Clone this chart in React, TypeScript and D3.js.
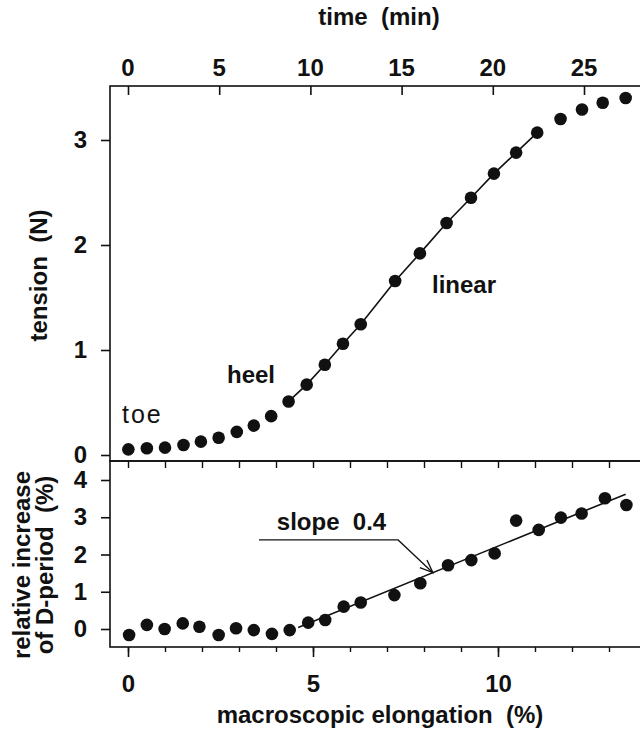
import React, { useEffect, useRef } from "react";
import * as d3 from "d3";

// upper panel: tension vs elongation
const tensionElong = [0.01, 0.51, 1.0, 1.5, 1.97, 2.45, 2.94, 3.4, 3.87, 4.34, 4.83, 5.32, 5.81, 6.29, 7.22, 7.89, 8.61, 9.27, 9.89, 10.49, 11.06, 11.69, 12.27, 12.83, 13.45];
const tensionN = [0.054, 0.064, 0.07, 0.095, 0.127, 0.165, 0.22, 0.28, 0.37, 0.51, 0.67, 0.86, 1.06, 1.245, 1.657, 1.92, 2.21, 2.45, 2.68, 2.88, 3.07, 3.2, 3.29, 3.355, 3.4];
// points joined by the "linear" line (index range)
const linearFrom = 9;
const linearTo = 20;

// lower panel: relative increase of D-period
const dElong = [0.03, 0.51, 0.99, 1.48, 1.93, 2.45, 2.92, 3.4, 3.89, 4.37, 4.87, 5.33, 5.83, 6.29, 7.2, 7.9, 8.65, 9.28, 9.91, 10.49, 11.1, 11.7, 12.26, 12.89, 13.47];
const dPeriod = [-0.16, 0.11, 0.0, 0.15, 0.06, -0.16, 0.02, -0.03, -0.13, -0.03, 0.17, 0.24, 0.6, 0.71, 0.91, 1.23, 1.71, 1.85, 2.03, 2.91, 2.66, 2.99, 3.1, 3.51, 3.33];
// fitted line (slope 0.4)
const fitElong = [4.6, 13.45];
const fitValue = [0.04, 3.62];

// ticks
const timeTicks = [0, 5, 10, 15, 20, 25];
const tensionTicks = [0, 1, 2, 3];
const dTicks = [0, 1, 2, 3, 4];
const elongMinor = d3.range(0, 14);
const elongMajor = [0, 5, 10];

const FONT = "'Liberation Sans', Arial, sans-serif";

export default function App() {
  const ref = useRef<SVGSVGElement>(null);

  useEffect(() => {
    const svg = d3.select(ref.current);
    svg.selectAll("*").remove();

    const left = 110, right = 641, top = 86, mid = 461, bottom = 647;

    const x = d3.scaleLinear().domain([0, 10]).range([128, 498]);
    // time axis shares the pixel span; 25 min sits at x=584
    const xTime = d3.scaleLinear().domain([0, 25]).range([128, 584]);
    const yT = d3.scaleLinear().domain([0, 3]).range([455, 140]);
    const yD = d3.scaleLinear().domain([0, 4]).range([629, 480]);

    const ink = "#111";
    const fmt = d3.format("d");

    // frames
    svg.append("rect").attr("x", left).attr("y", top).attr("width", right - left).attr("height", mid - top)
      .attr("fill", "none").attr("stroke", ink).attr("stroke-width", 1.6);
    svg.append("rect").attr("x", left).attr("y", mid).attr("width", right - left).attr("height", bottom - mid)
      .attr("fill", "none").attr("stroke", ink).attr("stroke-width", 1.6);

    // top time axis, ticks inward
    const topAxis = svg.append("g").attr("transform", `translate(0,${top})`)
      .call(d3.axisBottom(xTime).tickValues(timeTicks).tickSize(9).tickFormat(() => ""));
    topAxis.select(".domain").remove();
    topAxis.selectAll("line").attr("stroke", ink).attr("stroke-width", 1.6);
    svg.append("g").selectAll("text").data(timeTicks).enter().append("text")
      .attr("x", (d) => xTime(d)).attr("y", 76).attr("text-anchor", "middle")
      .attr("font-family", FONT).attr("font-weight", "bold").attr("font-size", 24).attr("fill", ink)
      .text((d) => d);
    svg.append("text").attr("x", 379).attr("y", 25).attr("text-anchor", "middle")
      .attr("font-family", FONT).attr("font-weight", "bold").attr("font-size", 24).attr("fill", ink)
      .attr("xml:space", "preserve").text("time  (min)");

    // upper y axis
    const yAxT = svg.append("g").attr("transform", `translate(${left},0)`)
      .call(d3.axisLeft(yT).tickValues(tensionTicks).tickFormat((d) => fmt(d as number)).tickSize(9).tickPadding(14));
    yAxT.select(".domain").remove();
    yAxT.selectAll("line").attr("stroke", ink).attr("stroke-width", 1.6);
    yAxT.selectAll("text").attr("font-family", FONT).attr("font-weight", "bold").attr("font-size", 24).attr("fill", ink);
    svg.append("text").attr("transform", `translate(47,${(top + mid) / 2 + 2}) rotate(-90)`).attr("text-anchor", "middle")
      .attr("font-family", FONT).attr("font-weight", "bold").attr("font-size", 24).attr("fill", ink)
      .attr("xml:space", "preserve").text("tension  (N)");

    // lower y axis
    const yAxD = svg.append("g").attr("transform", `translate(${left},0)`)
      .call(d3.axisLeft(yD).tickValues(dTicks).tickFormat((d) => fmt(d as number)).tickSize(9).tickPadding(14));
    yAxD.select(".domain").remove();
    yAxD.selectAll("line").attr("stroke", ink).attr("stroke-width", 1.6);
    yAxD.selectAll("text").attr("font-family", FONT).attr("font-weight", "bold").attr("font-size", 24).attr("fill", ink);
    const yTitle = svg.append("text").attr("transform", `translate(0,565) rotate(-90)`)
      .attr("text-anchor", "middle").attr("font-family", FONT).attr("font-weight", "bold").attr("font-size", 24).attr("fill", ink)
      .attr("xml:space", "preserve");
    yTitle.append("tspan").attr("x", 0).attr("y", 30).text("relative increase");
    yTitle.append("tspan").attr("x", 0).attr("y", 53).text("of D-period  (%)");

    // lower panel top edge, inward ticks each 1 %
    const midAxis = svg.append("g").attr("transform", `translate(0,${mid})`)
      .call(d3.axisBottom(x).tickValues(elongMinor).tickSize(7).tickFormat(() => ""));
    midAxis.select(".domain").remove();
    midAxis.selectAll("line").attr("stroke", ink).attr("stroke-width", 1.4);

    // bottom axis, outward
    const botMinor = svg.append("g").attr("transform", `translate(0,${bottom})`)
      .call(d3.axisBottom(x).tickValues(elongMinor).tickSize(5).tickFormat(() => ""));
    botMinor.select(".domain").remove();
    botMinor.selectAll("line").attr("stroke", ink).attr("stroke-width", 1.4);
    const botMajor = svg.append("g").attr("transform", `translate(0,${bottom})`)
      .call(d3.axisBottom(x).tickValues(elongMajor).tickFormat((d) => fmt(d as number)).tickSize(10).tickPadding(18));
    botMajor.select(".domain").remove();
    botMajor.selectAll("line").attr("stroke", ink).attr("stroke-width", 1.6);
    botMajor.selectAll("text").attr("font-family", FONT).attr("font-weight", "bold").attr("font-size", 24).attr("fill", ink);
    svg.append("text").attr("x", 380).attr("y", 723).attr("text-anchor", "middle")
      .attr("font-family", FONT).attr("font-weight", "bold").attr("font-size", 24).attr("fill", ink)
      .attr("xml:space", "preserve").text("macroscopic elongation  (%)");

    // upper data
    const upper = tensionElong.map((e, i) => [e, tensionN[i]] as [number, number]);
    const lineT = d3.line<[number, number]>().x((d) => x(d[0])).y((d) => yT(d[1]));
    svg.append("path").attr("d", lineT(upper.slice(linearFrom, linearTo + 1)))
      .attr("fill", "none").attr("stroke", ink).attr("stroke-width", 1.6);
    svg.append("g").selectAll("circle").data(upper).enter().append("circle")
      .attr("cx", (d) => x(d[0])).attr("cy", (d) => yT(d[1])).attr("r", 6.3).attr("fill", ink);

    // region labels
    svg.append("text").attr("x", 122).attr("y", 423).attr("font-family", FONT)
      .attr("font-size", 25).attr("letter-spacing", 2).attr("fill", ink).text("toe");
    svg.append("text").attr("x", 227).attr("y", 383).attr("font-family", FONT).attr("font-weight", "bold")
      .attr("font-size", 24).attr("fill", ink).text("heel");
    svg.append("text").attr("x", 432).attr("y", 293).attr("font-family", FONT).attr("font-weight", "bold")
      .attr("font-size", 24).attr("fill", ink).text("linear");

    // lower data
    const lower = dElong.map((e, i) => [e, dPeriod[i]] as [number, number]);
    const lineD = d3.line<[number, number]>().x((d) => x(d[0])).y((d) => yD(d[1]));
    svg.append("path").attr("d", lineD(fitElong.map((e, i) => [e, fitValue[i]] as [number, number])))
      .attr("fill", "none").attr("stroke", ink).attr("stroke-width", 1.6);
    svg.append("g").selectAll("circle").data(lower).enter().append("circle")
      .attr("cx", (d) => x(d[0])).attr("cy", (d) => yD(d[1])).attr("r", 6.3).attr("fill", ink);

    // slope annotation: leader + open arrow to the fitted line
    const tipE = 8.24;
    const tipV = fitValue[0] + ((fitValue[1] - fitValue[0]) / (fitElong[1] - fitElong[0])) * (tipE - fitElong[0]);
    const tip: [number, number] = [x(tipE), yD(tipV)];
    const elbow: [number, number] = [x(7.3), yD(2.39)];
    const start: [number, number] = [x(3.54), yD(2.39)];
    svg.append("path").attr("d", d3.line()([start, elbow, tip]))
      .attr("fill", "none").attr("stroke", ink).attr("stroke-width", 1.3);
    const ang = Math.atan2(tip[1] - elbow[1], tip[0] - elbow[0]);
    const head = [ang + Math.PI - 0.38, ang + Math.PI + 0.38].map((a) => [tip[0] + 14 * Math.cos(a), tip[1] + 14 * Math.sin(a)] as [number, number]);
    svg.append("path").attr("d", d3.line()([head[0], tip, head[1]]))
      .attr("fill", "none").attr("stroke", ink).attr("stroke-width", 1.3);
    svg.append("text").attr("x", x(5.5)).attr("y", yD(2.66)).attr("text-anchor", "middle")
      .attr("font-family", FONT).attr("font-weight", "bold").attr("font-size", 24).attr("fill", ink)
      .attr("xml:space", "preserve").text("slope  0.4");
  }, []);

  return (
    <svg ref={ref} width={640} height={735}
      style={{ position: "absolute", left: 0, top: 0, background: "#fff" }} />
  );
}
